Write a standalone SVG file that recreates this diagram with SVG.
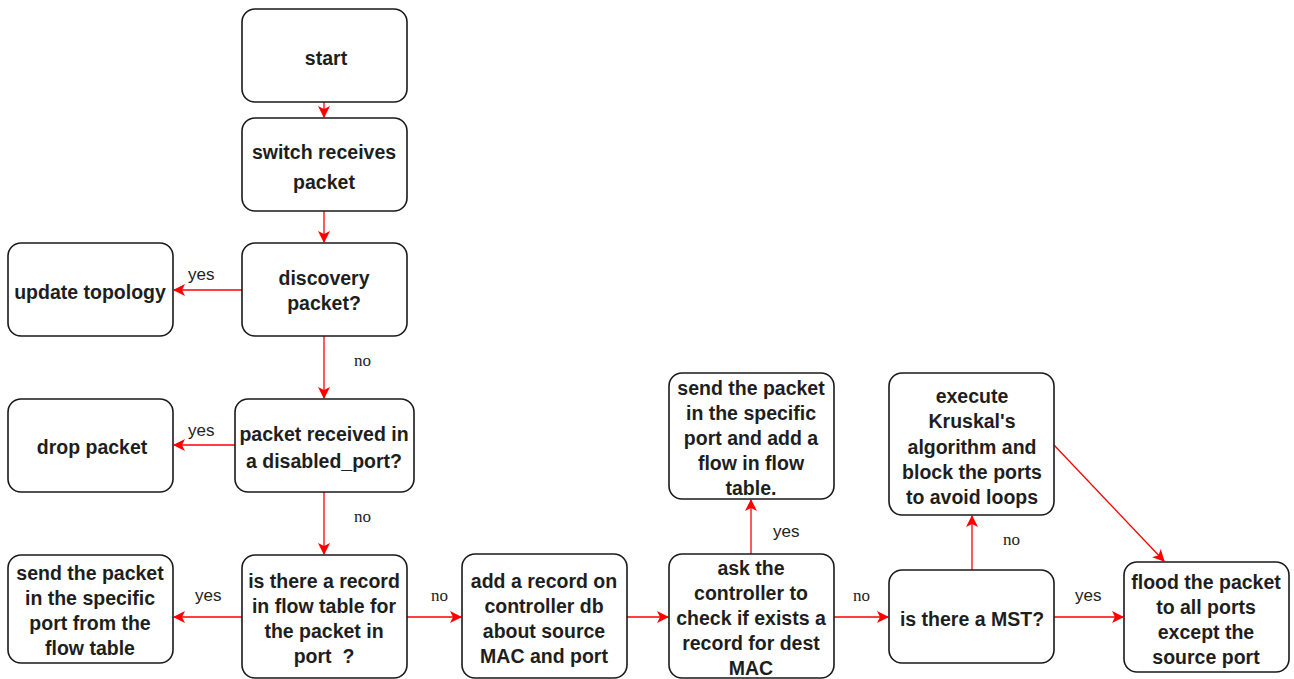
<svg xmlns="http://www.w3.org/2000/svg" width="1294" height="679" viewBox="0 0 1294 679">
  <defs>
    <marker id="arrow" viewBox="0 0 12 12" refX="11" refY="6" markerWidth="12" markerHeight="12" markerUnits="userSpaceOnUse" orient="auto">
      <path d="M0,0 L12,6 L0,12 L3,6 Z" fill="#ff0000"/>
    </marker>
  </defs>
  <style>
    .box { fill: #ffffff; stroke: #1a1a1a; stroke-width: 1.6; }
    .t { font-family: "Liberation Sans", Arial, sans-serif; font-size: 19.5px; font-weight: bold; fill: #1e1e1e; text-anchor: middle; }
    .edge { stroke: #ff0000; stroke-width: 1.3; fill: none; marker-end: url(#arrow); }
    .yes { font-family: "Liberation Sans", Arial, sans-serif; font-size: 17px; fill: #222; }
    .no { font-family: "Liberation Serif", "Times New Roman", serif; font-size: 17px; fill: #222; }
  </style>
  <rect width="1294" height="679" fill="#ffffff"/>

  <g id="connectors">
    <line class="edge" x1="324" y1="102" x2="324" y2="117"/>
    <line class="edge" x1="324" y1="211" x2="324" y2="242"/>
    <line class="edge" x1="242" y1="290" x2="174" y2="290"/>
    <line class="edge" x1="324" y1="336" x2="324" y2="398"/>
    <line class="edge" x1="235" y1="445" x2="174" y2="445"/>
    <line class="edge" x1="324" y1="492" x2="324" y2="554"/>
    <line class="edge" x1="242" y1="617" x2="174" y2="617"/>
    <line class="edge" x1="407" y1="617" x2="461" y2="617"/>
    <line class="edge" x1="627" y1="617" x2="668" y2="617"/>
    <line class="edge" x1="751" y1="554" x2="751" y2="500"/>
    <line class="edge" x1="834" y1="617" x2="888" y2="617"/>
    <line class="edge" x1="972" y1="570" x2="972" y2="516"/>
    <line class="edge" x1="1054" y1="617" x2="1123" y2="617"/>
    <line class="edge" x1="1054" y1="445" x2="1164" y2="561"/>
    <text class="yes" x="188" y="280">yes</text>
    <text class="no" x="354" y="366">no</text>
    <text class="yes" x="188" y="436">yes</text>
    <text class="no" x="354" y="522">no</text>
    <text class="yes" x="195" y="601">yes</text>
    <text class="no" x="431" y="601">no</text>
    <text class="yes" x="773" y="537">yes</text>
    <text class="no" x="853" y="601">no</text>
    <text class="no" x="1003" y="545">no</text>
    <text class="yes" x="1075" y="601">yes</text>
  </g>

  <g id="start">
    <rect class="box" x="242" y="9" width="165" height="93" rx="13"/>
    <text class="t" x="326" y="65">start</text>
  </g>
  <g id="switch-receives">
    <rect class="box" x="242" y="118" width="165" height="93" rx="13"/>
    <text class="t" x="324" y="159">switch receives</text>
    <text class="t" x="324" y="189">packet</text>
  </g>
  <g id="discovery">
    <rect class="box" x="242" y="243" width="165" height="93" rx="13"/>
    <text class="t" x="324" y="285">discovery</text>
    <text class="t" x="324" y="310">packet?</text>
  </g>
  <g id="update-topology">
    <rect class="box" x="8" y="243" width="165" height="93" rx="13"/>
    <text class="t" x="90" y="299">update topology</text>
  </g>
  <g id="disabled-port">
    <rect class="box" x="235" y="399" width="179" height="93" rx="13"/>
    <text class="t" x="324" y="441">packet received in</text>
    <text class="t" x="324" y="468">a disabled_port?</text>
  </g>
  <g id="drop-packet">
    <rect class="box" x="8" y="399" width="165" height="93" rx="13"/>
    <text class="t" x="92" y="454">drop packet</text>
  </g>
  <g id="flow-record">
    <rect class="box" x="242" y="555" width="165" height="123" rx="13"/>
    <text class="t" x="324" y="588">is there a record</text>
    <text class="t" x="324" y="613">in flow table for</text>
    <text class="t" x="324" y="638">the packet in</text>
    <text class="t" x="324" y="663">port &#160;?</text>
  </g>
  <g id="send-from-table">
    <rect class="box" x="8" y="555" width="165" height="108" rx="13"/>
    <text class="t" x="90" y="580">send the packet</text>
    <text class="t" x="90" y="605">in the specific</text>
    <text class="t" x="90" y="630">port from the</text>
    <text class="t" x="90" y="655">flow table</text>
  </g>
  <g id="add-record">
    <rect class="box" x="462" y="554" width="165" height="124" rx="13"/>
    <text class="t" x="544" y="588">add a record on</text>
    <text class="t" x="544" y="613">controller db</text>
    <text class="t" x="544" y="638">about source</text>
    <text class="t" x="544" y="663">MAC and port</text>
  </g>
  <g id="ask-controller">
    <rect class="box" x="669" y="554" width="165" height="124" rx="13"/>
    <text class="t" x="751" y="575">ask the</text>
    <text class="t" x="751" y="600">controller to</text>
    <text class="t" x="751" y="625">check if exists a</text>
    <text class="t" x="751" y="650">record for dest</text>
    <text class="t" x="751" y="675">MAC</text>
  </g>
  <g id="send-add-flow">
    <rect class="box" x="669" y="373" width="165" height="126" rx="13"/>
    <text class="t" x="751" y="395">send the packet</text>
    <text class="t" x="751" y="420">in the specific</text>
    <text class="t" x="751" y="445">port and add a</text>
    <text class="t" x="751" y="470">flow in flow</text>
    <text class="t" x="751" y="495">table.</text>
  </g>
  <g id="mst">
    <rect class="box" x="889" y="570" width="165" height="93" rx="13"/>
    <text class="t" x="972" y="626">is there a MST?</text>
  </g>
  <g id="kruskal">
    <rect class="box" x="889" y="373" width="165" height="142" rx="13"/>
    <text class="t" x="972" y="403">execute</text>
    <text class="t" x="972" y="428">Kruskal's</text>
    <text class="t" x="972" y="454">algorithm and</text>
    <text class="t" x="972" y="479">block the ports</text>
    <text class="t" x="972" y="504">to avoid loops</text>
  </g>
  <g id="flood">
    <rect class="box" x="1124" y="562" width="165" height="110" rx="13"/>
    <text class="t" x="1206" y="589">flood the packet</text>
    <text class="t" x="1206" y="614">to all ports</text>
    <text class="t" x="1206" y="639">except the</text>
    <text class="t" x="1206" y="664">source port</text>
  </g>
</svg>
